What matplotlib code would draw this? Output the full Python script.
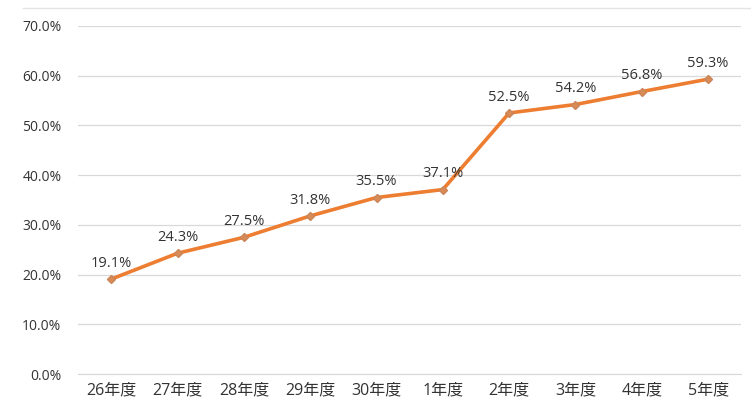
import matplotlib
matplotlib.use("Agg")
import matplotlib.pyplot as plt
from matplotlib.ticker import FuncFormatter

plt.rcParams['font.family'] = ['Open Sans', 'Noto Sans CJK JP']

# data
years = ['26年度', '27年度', '28年度', '29年度', '30年度', '1年度', '2年度', '3年度', '4年度', '5年度']
rates = [19.1, 24.3, 27.5, 31.8, 35.5, 37.1, 52.5, 54.2, 56.8, 59.3]

fig = plt.figure(figsize=(7.51, 4.18), dpi=100)
ax = fig.add_axes([0.104, 0.105, 0.883, 0.833])

x = list(range(len(years)))
ax.plot(x, rates, color='#ED7D31', linewidth=2.6, marker='D', markersize=4.5,
        markerfacecolor='#D98A55', markeredgecolor='#C9865A', zorder=3)

for xi, v in zip(x, rates):
    ax.annotate(f'{v:.1f}%', (xi, v), xytext=(0, 6), textcoords='offset points',
                ha='center', va='bottom', fontsize=10.5, color='#333333')

ax.set_xlim(-0.5, len(years) - 0.5)
ax.set_ylim(0, 70)
ax.set_yticks(range(0, 71, 10))
ax.yaxis.set_major_formatter(FuncFormatter(lambda v, p: f'{v:.1f}%'))
ax.set_xticks(x)
ax.set_xticklabels(years)
ax.tick_params(axis='both', length=0, colors='#333333')
ax.tick_params(axis='y', pad=12, labelsize=10)
ax.tick_params(axis='x', pad=6, labelsize=11.5)

ax.grid(axis='y', color='#D9D9D9', linewidth=0.9)
ax.set_axisbelow(True)
for s in ['top', 'right', 'left']:
    ax.spines[s].set_visible(False)
ax.spines['bottom'].set_color('#D9D9D9')

# faint frame line at top
fig.add_artist(plt.Line2D([0.03, 1.0], [0.982, 0.982], color='#E3E3E3', linewidth=1.0))

fig.savefig('out.png', dpi=100)
